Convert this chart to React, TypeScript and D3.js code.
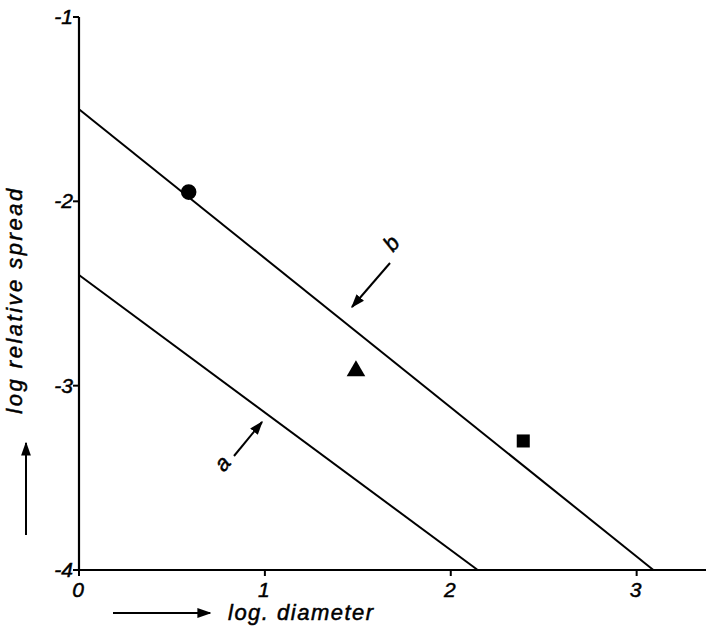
import React from 'react'
import * as d3 from 'd3'

// fitted lines, as [x, y] end points in data units
const lineA = [
	[0, -2.4],
	[2.145, -4],
]
const lineB = [
	[0, -1.5],
	[3.09, -4],
]

// measured points
const points = [
	{ shape: 'circle', x: 0.59, y: -1.95 },
	{ shape: 'triangle', x: 1.49, y: -2.92 },
	{ shape: 'square', x: 2.39, y: -3.3 },
]

const xTicks = [0, 1, 2, 3]
const yTicks = [-1, -2, -3, -4]

const W = 706
const H = 630
const font = '"Liberation Sans", Arial, sans-serif'
const txt = {
	fontFamily: font,
	fontStyle: 'italic',
	stroke: '#000',
	strokeWidth: 0.5,
}

const App = () => {
	const x = d3.scaleLinear().domain([0, 3.4]).range([79, 711])
	const y = d3.scaleLinear().domain([-4, -1]).range([570, 17])
	const line = d3
		.line<number[]>()
		.x((d) => x(d[0]))
		.y((d) => y(d[1]))

	const sym = (shape: string) => {
		const t =
			shape === 'circle'
				? d3.symbolCircle
				: shape === 'triangle'
					? d3.symbolTriangle
					: d3.symbolSquare
		const size = shape === 'circle' ? 190 : shape === 'triangle' ? 150 : 170
		return d3.symbol(t, size)()
	}

	return (
		<svg
			width={W}
			height={H}
			style={{ position: 'absolute', left: 0, top: 0, background: '#fff' }}
		>
			<defs>
				<marker
					id="head"
					viewBox="0 0 10 10"
					refX="9"
					refY="5"
					markerWidth="7"
					markerHeight="7"
					orient="auto"
				>
					<path d="M0,1.5 L10,5 L0,8.5 z" fill="#000" />
				</marker>
			</defs>

			{/* axes */}
			<line x1={x(0)} x2={W} y1={y(-4)} y2={y(-4)} stroke="#000" strokeWidth={2.2} />
			<line x1={x(0)} x2={x(0)} y1={y(-1)} y2={y(-4)} stroke="#000" strokeWidth={2.2} />

			{xTicks.map((t) => (
				<g key={t}>
					<line x1={x(t)} x2={x(t)} y1={y(-4)} y2={y(-4) + 6} stroke="#000" strokeWidth={2} />
					<text x={x(t) - 1} y={597} textAnchor="middle" fontSize={21} style={txt}>
						{t}
					</text>
				</g>
			))}
			{yTicks.map((t) => (
				<g key={t}>
					<line x1={x(0) - 6} x2={x(0)} y1={y(t)} y2={y(t)} stroke="#000" strokeWidth={2} />
					<text x={x(0) - 6} y={y(t) + 7} textAnchor="end" fontSize={21} style={txt}>
						{t}
					</text>
				</g>
			))}

			{/* lines a and b */}
			<path d={line(lineA as any) || ''} fill="none" stroke="#000" strokeWidth={2} />
			<path d={line(lineB as any) || ''} fill="none" stroke="#000" strokeWidth={2} />

			{points.map((p) => (
				<path
					key={p.shape}
					transform={`translate(${x(p.x)},${y(p.y)})`}
					d={sym(p.shape) || ''}
					fill="#000"
				/>
			))}

			{/* labels with arrows */}
			<line x1={390} y1={263} x2={352} y2={307} stroke="#000" strokeWidth={2} markerEnd="url(#head)" />
			<text transform="translate(397,248) rotate(-50)" textAnchor="middle" fontSize={22} style={txt}>
				b
			</text>
			<line x1={234} y1={456} x2={262} y2={422} stroke="#000" strokeWidth={2} markerEnd="url(#head)" />
			<text transform="translate(228,468) rotate(-50)" textAnchor="middle" fontSize={22} style={txt}>
				a
			</text>

			{/* axis titles */}
			<text
				transform="translate(22,300) rotate(-90)"
				textAnchor="middle"
				fontSize={22}
				letterSpacing={2.5}
				style={txt}
			>
				log relative spread
			</text>
			<line x1={26} y1={535} x2={26} y2={443} stroke="#000" strokeWidth={2} markerEnd="url(#head)" />

			<text x={228} y={620} fontSize={22} letterSpacing={1.5} style={txt}>
				log. diameter
			</text>
			<line x1={113} y1={613} x2={210} y2={613} stroke="#000" strokeWidth={2} markerEnd="url(#head)" />
		</svg>
	)
}

export default App
